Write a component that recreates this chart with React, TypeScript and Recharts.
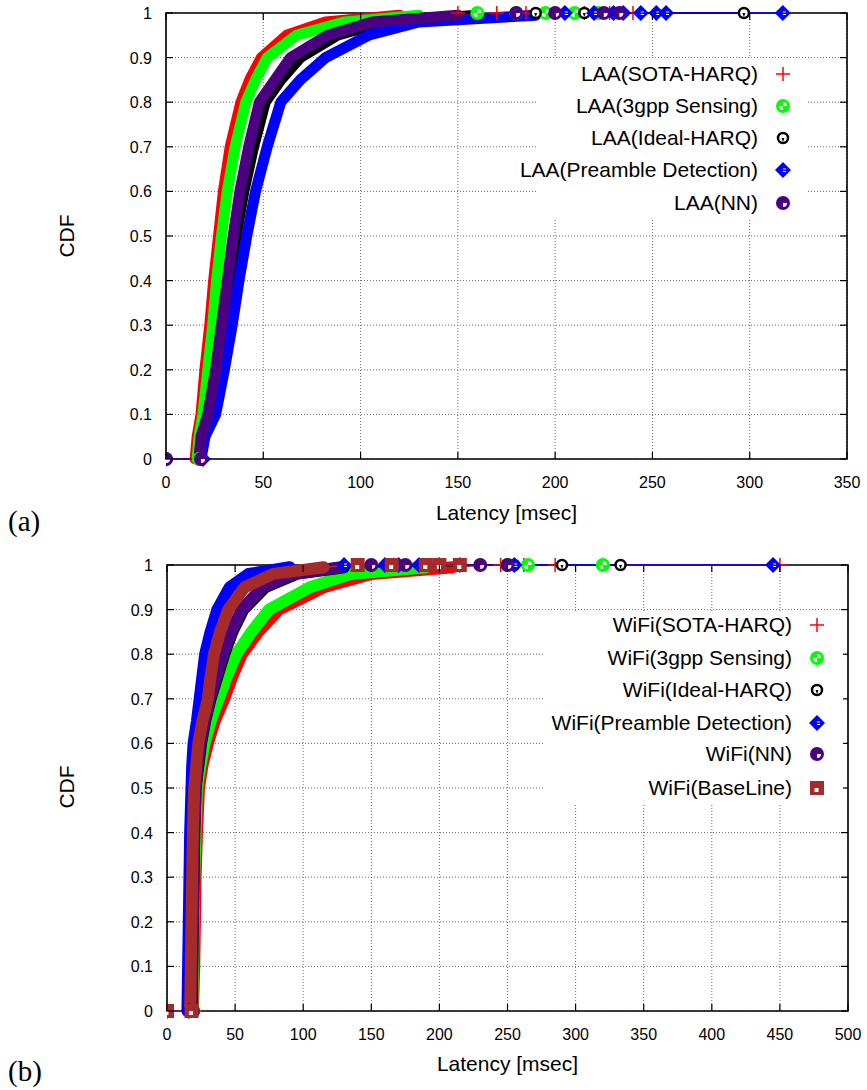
import React from 'react';
import { ComposedChart, Line, Scatter, XAxis, YAxis, CartesianGrid, ReferenceArea } from 'recharts';

type Pt = [number, number];

const FONT = '"Liberation Sans", Arial, Helvetica, sans-serif';

// ---------- ticks ----------
const cdfTicks = [0, 0.1, 0.2, 0.3, 0.4, 0.5, 0.6, 0.7, 0.8, 0.9, 1];
const laaLatencyTicks = [0, 50, 100, 150, 200, 250, 300, 350];
const wifiLatencyTicks = [0, 50, 100, 150, 200, 250, 300, 350, 400, 450, 500];

// ---------- (a) LAA ----------
const laaNames = ['LAA(SOTA-HARQ)', 'LAA(3gpp Sensing)', 'LAA(Ideal-HARQ)', 'LAA(Preamble Detection)', 'LAA(NN)'];
const laaSotaHarq: Pt[] = [[15, 0], [16, 0.05], [18, 0.1], [20, 0.2], [22.5, 0.3], [24.5, 0.4], [27, 0.5], [29.5, 0.6], [33, 0.7], [38.5, 0.8], [43, 0.85], [49, 0.9], [62, 0.95], [82, 0.98], [120, 0.995]];
const laaSotaHarqTail = [150, 170, 185, 200, 215, 228, 240];
const laa3gpp: Pt[] = [[16, 0], [17, 0.05], [19, 0.1], [21.5, 0.2], [24, 0.3], [26, 0.4], [28.5, 0.5], [31.5, 0.6], [35.5, 0.7], [41, 0.8], [46, 0.85], [52, 0.9], [67, 0.95], [92, 0.98], [130, 0.995]];
const laa3gppTail = [160, 180, 195, 210, 222];
const laaIdeal: Pt[] = [[17, 0], [18.5, 0.05], [22.5, 0.1], [26.5, 0.2], [29.5, 0.3], [33, 0.4], [36, 0.5], [40, 0.6], [45, 0.7], [51, 0.8], [59, 0.85], [69, 0.9], [88, 0.95], [112, 0.98], [160, 0.995]];
const laaIdealTail = [190, 215, 297];
const laaPreamble: Pt[] = [[18, 0], [20, 0.05], [25.5, 0.1], [30, 0.2], [34, 0.3], [37.5, 0.4], [41.5, 0.5], [46, 0.6], [52, 0.7], [59, 0.8], [69, 0.85], [82, 0.9], [104, 0.95], [130, 0.98], [190, 0.995]];
const laaPreambleTail = [205, 220, 230, 235, 244, 252, 257, 317];
const laaNN: Pt[] = [[17, 0], [18, 0.05], [21.5, 0.1], [25.5, 0.2], [28.5, 0.3], [31.5, 0.4], [34.5, 0.5], [38, 0.6], [42.5, 0.7], [48, 0.8], [56, 0.85], [64, 0.9], [83, 0.95], [106, 0.98], [150, 0.995]];
const laaNNTail = [180, 200, 225, 233];

// ---------- (b) WiFi ----------
const wifiNames = ['WiFi(SOTA-HARQ)', 'WiFi(3gpp Sensing)', 'WiFi(Ideal-HARQ)', 'WiFi(Preamble Detection)', 'WiFi(NN)', 'WiFi(BaseLine)'];
const wifiSotaHarq: Pt[] = [[19, 0], [20, 0.1], [20.5, 0.2], [21, 0.3], [22, 0.4], [23.5, 0.5], [26, 0.55], [30, 0.6], [35, 0.65], [42, 0.7], [48, 0.75], [55, 0.8], [67, 0.85], [82, 0.9], [115, 0.95], [150, 0.98], [210, 0.995]];
const wifiSotaHarqTail = [230, 245, 262, 285, 450];
const wifi3gpp: Pt[] = [[18.5, 0], [19, 0.1], [19.5, 0.2], [20, 0.3], [21, 0.4], [22, 0.5], [24.5, 0.55], [27.5, 0.6], [32, 0.65], [38, 0.7], [44, 0.75], [51, 0.8], [62, 0.85], [75, 0.9], [105, 0.95], [135, 0.98], [190, 0.995]];
const wifi3gppTail = [215, 250, 265, 320];
const wifiIdeal: Pt[] = [[18, 0], [18.5, 0.1], [19, 0.2], [19.5, 0.3], [20, 0.4], [21, 0.5], [23, 0.55], [25, 0.6], [28, 0.65], [32, 0.7], [37, 0.75], [42, 0.8], [48, 0.85], [56, 0.9], [72, 0.95], [95, 0.98], [130, 0.995]];
const wifiIdealTail = [255, 290, 333];
const wifiPreamble: Pt[] = [[15, 0], [15.5, 0.1], [16, 0.2], [16.5, 0.3], [17, 0.4], [18, 0.5], [18.5, 0.55], [19.5, 0.6], [22, 0.65], [24, 0.7], [26, 0.75], [28, 0.8], [32, 0.85], [37, 0.9], [46, 0.95], [60, 0.98], [90, 0.995]];
const wifiPreambleTail = [130, 160, 170, 185, 200, 215, 255, 445];
const wifiNN: Pt[] = [[18, 0], [18.5, 0.1], [19, 0.2], [19.5, 0.3], [20, 0.4], [21, 0.5], [22.5, 0.55], [24.5, 0.6], [27.5, 0.65], [31.5, 0.7], [36, 0.75], [41, 0.8], [47, 0.85], [55, 0.9], [70, 0.95], [93, 0.98], [128, 0.995]];
const wifiNNTail = [150, 175, 200, 230, 250];
const wifiBaseLine: Pt[] = [[17, 0], [17.5, 0.1], [18, 0.2], [18.5, 0.3], [19, 0.4], [20, 0.5], [21.5, 0.55], [23, 0.6], [26, 0.65], [30, 0.7], [32, 0.75], [34.5, 0.8], [39, 0.85], [45, 0.9], [57, 0.95], [78, 0.98], [115, 0.995]];
const wifiBaseLineTail = [140, 165, 190, 200, 215];

// ---------- styles ----------
const RED = '#ff0000';
const GREEN = '#00ff00';
const BLACK = '#000000';
const BLUE = '#0000ff';
const PURPLE = '#4b0082';
const BROWN = '#a52a2a';

type Kind = 'plus' | 'green' | 'ring' | 'diamond' | 'purple' | 'square';

function Marker({ kind, cx, cy }: { kind: Kind; cx: number; cy: number }) {
  if (cx == null || cy == null || isNaN(cx) || isNaN(cy)) return <g />;
  switch (kind) {
    case 'plus':
      return (
        <g stroke={RED} strokeWidth={1.5}>
          <line x1={cx - 7} y1={cy} x2={cx + 7} y2={cy} />
          <line x1={cx} y1={cy - 7} x2={cx} y2={cy + 7} />
        </g>
      );
    case 'green':
      return (
        <g>
          <circle cx={cx} cy={cy} r={7} fill={GREEN} />
          <path d={`M${cx} ${cy} L${cx + 4} ${cy} A4 4 0 0 0 ${cx} ${cy - 4} Z`} fill="#fff" />
          <path d={`M${cx} ${cy} L${cx - 4} ${cy} A4 4 0 0 0 ${cx} ${cy + 4} Z`} fill="#fff" />
        </g>
      );
    case 'ring':
      return (
        <g>
          <circle cx={cx} cy={cy} r={5} fill="#fff" stroke={BLACK} strokeWidth={2.5} />
          <path d={`M${cx - 1.5} ${cy} L${cx + 1.5} ${cy} L${cx} ${cy + 4} Z`} fill={BLACK} />
        </g>
      );
    case 'diamond':
      return (
        <g>
          <polygon points={`${cx},${cy - 8} ${cx + 8},${cy} ${cx},${cy + 8} ${cx - 8},${cy}`} fill={BLUE} />
          <line x1={cx} y1={cy - 1} x2={cx + 3} y2={cy - 1} stroke="#fff" strokeWidth={1} />
          <line x1={cx} y1={cy + 1.5} x2={cx + 3} y2={cy + 1.5} stroke="#fff" strokeWidth={1} />
        </g>
      );
    case 'purple':
      return (
        <g>
          <circle cx={cx} cy={cy} r={7} fill={PURPLE} />
          <path d={`M${cx} ${cy} L${cx + 4} ${cy} A4 4 0 0 1 ${cx} ${cy + 4} Z`} fill="#fff" />
        </g>
      );
    case 'square':
    default:
      return (
        <g>
          <rect x={cx - 7} y={cy - 7} width={14} height={14} fill={BROWN} />
          <rect x={cx - 2.5} y={cy} width={4} height={4} fill="#fff" />
        </g>
      );
  }
}

interface Series {
  name: string;
  color: string;
  kind: Kind;
  curve: Pt[];
  tail: number[];
}

const laaSeries: Series[] = [
  { name: laaNames[0], color: RED, kind: 'plus', curve: laaSotaHarq, tail: laaSotaHarqTail },
  { name: laaNames[1], color: GREEN, kind: 'green', curve: laa3gpp, tail: laa3gppTail },
  { name: laaNames[2], color: BLACK, kind: 'ring', curve: laaIdeal, tail: laaIdealTail },
  { name: laaNames[3], color: BLUE, kind: 'diamond', curve: laaPreamble, tail: laaPreambleTail },
  { name: laaNames[4], color: PURPLE, kind: 'purple', curve: laaNN, tail: laaNNTail },
];

const wifiSeries: Series[] = [
  { name: wifiNames[0], color: RED, kind: 'plus', curve: wifiSotaHarq, tail: wifiSotaHarqTail },
  { name: wifiNames[1], color: GREEN, kind: 'green', curve: wifi3gpp, tail: wifi3gppTail },
  { name: wifiNames[2], color: BLACK, kind: 'ring', curve: wifiIdeal, tail: wifiIdealTail },
  { name: wifiNames[3], color: BLUE, kind: 'diamond', curve: wifiPreamble, tail: wifiPreambleTail },
  { name: wifiNames[4], color: PURPLE, kind: 'purple', curve: wifiNN, tail: wifiNNTail },
  { name: wifiNames[5], color: BROWN, kind: 'square', curve: wifiBaseLine, tail: wifiBaseLineTail },
];

const toObj = (p: Pt[]) => p.map(([x, y]) => ({ x, y }));

interface PanelProps {
  top: number;
  height: number;
  plotLeft: number;
  plotRight: number;
  plotTop: number;
  plotBottom: number;
  xMax: number;
  xTicks: number[];
  series: Series[];
  bandWidth: number;
  legendBox: { x: number; y: number; w: number; h: number };
  legendTextRight: number;
  legendMarkerX: number;
  legendRows: number[];
  xTitleY: number;
  yTitleY: number;
  tag: string;
  tagY: number;
}

const W = 867;
const YW = 60;
const XH = 30;

function Panel(p: PanelProps) {
  const plotW = p.plotRight - p.plotLeft;
  const plotH = p.plotBottom - p.plotTop;
  const margin = {
    top: p.plotTop,
    right: W - p.plotRight,
    left: p.plotLeft - YW,
    bottom: p.height - p.plotBottom - XH,
  };

  const XTick = (props: any) => {
    const { x, y, payload } = props;
    return (
      <g>
        <line x1={x} y1={y} x2={x} y2={y - 7} stroke="#000" strokeWidth={1.2} />
        <line x1={x} y1={y - plotH} x2={x} y2={y - plotH + 7} stroke="#000" strokeWidth={1.2} />
        <text x={x} y={y + 29} textAnchor="middle" fontSize={16} fontFamily={FONT} fill="#000">
          {String(payload.value)}
        </text>
      </g>
    );
  };
  const YTick = (props: any) => {
    const { x, y, payload } = props;
    return (
      <g>
        <line x1={x} y1={y} x2={x + 7} y2={y} stroke="#000" strokeWidth={1.2} />
        <line x1={x + plotW} y1={y} x2={x + plotW - 7} y2={y} stroke="#000" strokeWidth={1.2} />
        <text x={x - 14} y={y + 6} textAnchor="end" fontSize={16} fontFamily={FONT} fill="#000">
          {String(payload.value)}
        </text>
      </g>
    );
  };

  const children: React.ReactNode[] = [];
  p.series.forEach((s, i) => {
    const thin = [[0, 0] as Pt, ...s.curve, ...s.tail.map((x) => [x, 1] as Pt)];
    const marks = [[0, 0] as Pt, [s.curve[0][0] + 1, 0] as Pt, ...s.tail.map((x) => [x, 1] as Pt)];
    children.push(
      <Line
        key={`thin${i}`}
        data={toObj(thin)}
        dataKey="y"
        type="linear"
        stroke={s.color}
        strokeWidth={1.6}
        dot={false}
        isAnimationActive={false}
        legendType="none"
      />
    );
    children.push(
      <Line
        key={`band${i}`}
        data={toObj(s.curve)}
        dataKey="y"
        type="linear"
        stroke={s.color}
        strokeWidth={p.bandWidth}
        strokeLinejoin="round"
        strokeLinecap="round"
        dot={false}
        isAnimationActive={false}
        legendType="none"
      />
    );
    children.push(
      <Scatter
        key={`mk${i}`}
        data={toObj(marks)}
        dataKey="y"
        isAnimationActive={false}
        shape={(sp: any) => <Marker kind={s.kind} cx={sp.cx} cy={sp.cy} />}
      />
    );
  });

  return (
    <div style={{ position: 'absolute', left: 0, top: p.top, width: W, height: p.height }}>
      <ComposedChart width={W} height={p.height} margin={margin}>
        <CartesianGrid stroke="#6e6e6e" strokeDasharray="1 2" strokeWidth={1} />
        <XAxis
          type="number"
          dataKey="x"
          domain={[0, p.xMax]}
          ticks={p.xTicks}
          allowDataOverflow
          height={XH}
          tickSize={0}
          tickMargin={0}
          tickLine={false}
          axisLine={false}
          tick={XTick}
          interval={0}
        />
        <YAxis
          type="number"
          dataKey="y"
          domain={[0, 1]}
          ticks={cdfTicks}
          width={YW}
          tickSize={0}
          tickMargin={0}
          tickLine={false}
          axisLine={false}
          tick={YTick}
          interval={0}
        />
        {children}
        <ReferenceArea x1={0} x2={p.xMax} y1={0} y2={1} fill="none" fillOpacity={0} stroke="#000" strokeWidth={1.6} />
      </ComposedChart>

      {/* key box */}
      <div
        style={{
          position: 'absolute',
          left: p.legendBox.x,
          top: p.legendBox.y,
          width: p.legendBox.w,
          height: p.legendBox.h,
          background: '#fff',
        }}
      />
      {p.series.map((s, i) => (
        <React.Fragment key={s.name}>
          <div
            style={{
              position: 'absolute',
              left: 0,
              width: p.legendTextRight,
              top: p.legendRows[i] - 13,
              height: 26,
              lineHeight: '26px',
              textAlign: 'right',
              fontFamily: FONT,
              fontSize: 21,
              color: '#000',
              whiteSpace: 'nowrap',
            }}
          >
            {s.name}
          </div>
          <svg
            style={{ position: 'absolute', left: p.legendMarkerX - 10, top: p.legendRows[i] - 10 }}
            width={20}
            height={20}
          >
            <Marker kind={s.kind} cx={10} cy={10} />
          </svg>
        </React.Fragment>
      ))}

      {/* axis titles */}
      <div
        style={{
          position: 'absolute',
          left: p.plotLeft,
          width: plotW,
          top: p.xTitleY - 14,
          height: 28,
          lineHeight: '28px',
          textAlign: 'center',
          fontFamily: FONT,
          fontSize: 21,
          color: '#000',
        }}
      >
        Latency [msec]
      </div>
      <div
        style={{
          position: 'absolute',
          left: 67 - 40,
          top: p.yTitleY - 14,
          width: 80,
          height: 28,
          lineHeight: '28px',
          textAlign: 'center',
          fontFamily: FONT,
          fontSize: 21,
          color: '#000',
          transform: 'rotate(-90deg)',
        }}
      >
        CDF
      </div>
      <div
        style={{
          position: 'absolute',
          left: 8,
          top: p.tagY - 20,
          height: 40,
          lineHeight: '40px',
          fontFamily: '"Liberation Serif", "DejaVu Serif", serif',
          fontSize: 29,
          color: '#000',
        }}
      >
        {p.tag}
      </div>
    </div>
  );
}

export default function App() {
  return (
    <div style={{ position: 'absolute', left: 0, top: 0, width: 867, height: 1090, background: '#fff' }}>
      <Panel
        top={0}
        height={545}
        plotLeft={166}
        plotRight={847}
        plotTop={13}
        plotBottom={459}
        xMax={350}
        xTicks={laaLatencyTicks}
        series={laaSeries}
        bandWidth={11}
        legendBox={{ x: 537, y: 58, w: 270, h: 161 }}
        legendTextRight={758}
        legendMarkerX={783}
        legendRows={[74, 106, 138, 170, 203]}
        xTitleY={513}
        yTitleY={236}
        tag="(a)"
        tagY={521}
      />
      <Panel
        top={545}
        height={545}
        plotLeft={167}
        plotRight={848}
        plotTop={20}
        plotBottom={466}
        xMax={500}
        xTicks={wifiLatencyTicks}
        series={wifiSeries}
        bandWidth={12}
        legendBox={{ x: 545, y: 612 - 545, w: 298, h: 191 }}
        legendTextRight={792}
        legendMarkerX={817}
        legendRows={[625 - 545, 658 - 545, 690 - 545, 723 - 545, 754 - 545, 788 - 545]}
        xTitleY={1064 - 545}
        yTitleY={787 - 545}
        tag="(b)"
        tagY={1071 - 545}
      />
    </div>
  );
}
